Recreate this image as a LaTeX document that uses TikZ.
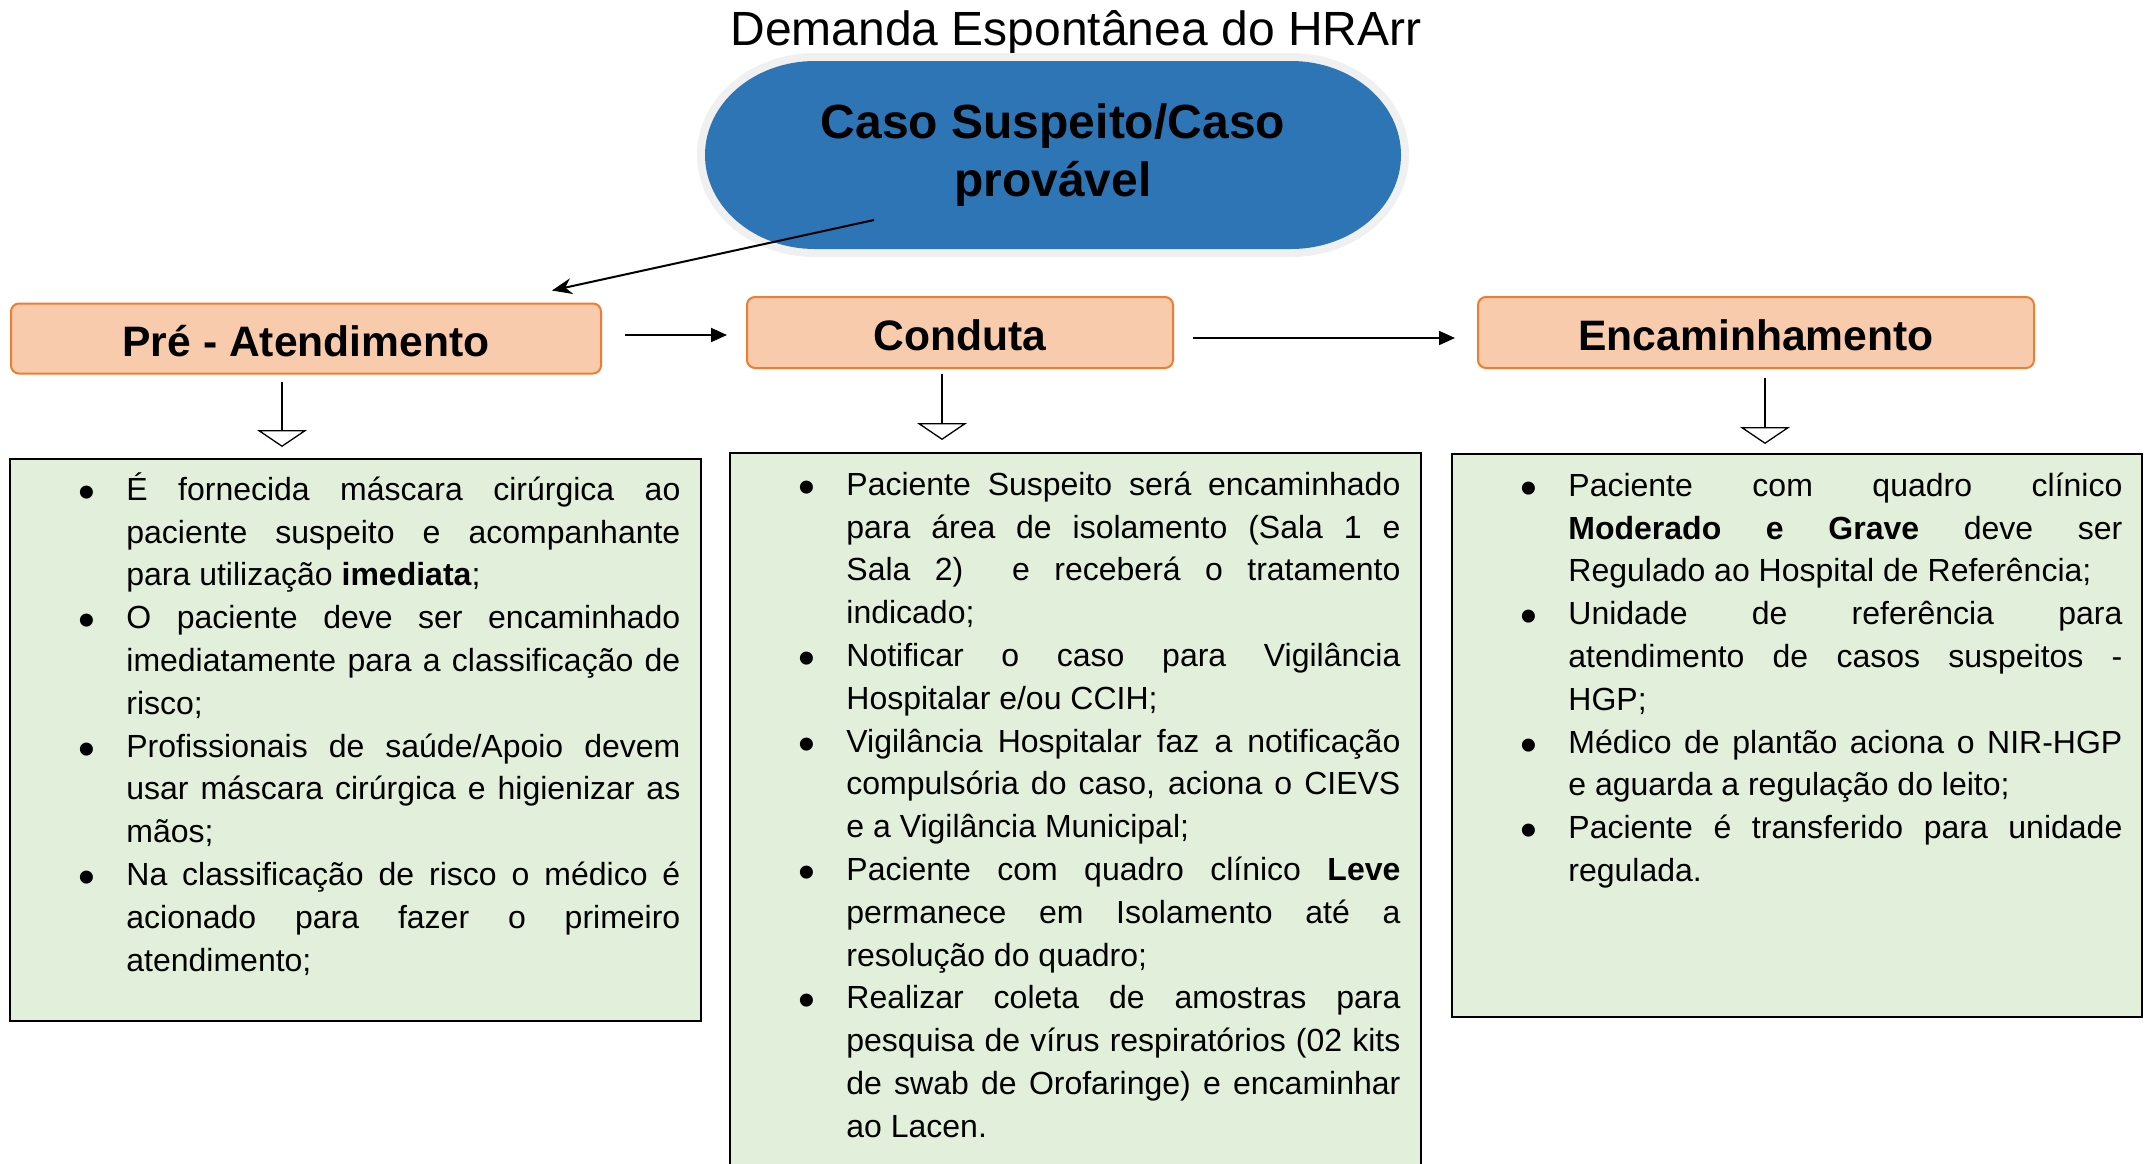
\documentclass[tikz,border=0pt]{standalone}
\usepackage{fontspec}
\setmainfont{Liberation Sans}
\usetikzlibrary{arrows.meta,calc}
\definecolor{ellblue}{HTML}{2E75B6}
\definecolor{ringgray}{HTML}{F0F0F0}
\definecolor{ofill}{HTML}{F8CBAD}
\definecolor{oline}{HTML}{ED7D31}
\definecolor{gfill}{HTML}{E2EFDA}
\hyphenpenalty=10000
\exhyphenpenalty=10000
\tolerance=9999
\hbadness=10000
\newcommand{\bodysize}{\fontsize{16}{21.4}\selectfont}
\newcommand{\bigbul}{\raisebox{-0.25em}{\scalebox{1.5}{\textbullet}}}
\newenvironment{blist}{\begin{list}{\makebox[24pt][l]{\bigbul}}{%
  \setlength{\leftmargin}{24pt}\setlength{\labelwidth}{24pt}%
  \setlength{\labelsep}{0pt}\setlength{\itemsep}{0pt}%
  \setlength{\parsep}{0pt}\setlength{\topsep}{0pt}%
  \setlength{\partopsep}{0pt}\setlength{\rightmargin}{0pt}%
  \setlength{\itemindent}{0pt}\setlength{\listparindent}{0pt}}}{\end{list}}
\tikzset{
  obox/.style={draw=oline, line width=1pt, fill=ofill, rounded corners=4pt,
    font=\fontsize{21.3}{25}\selectfont\bfseries, inner sep=0pt,
    text height=17.5pt, text depth=0pt},
  gbox/.style={draw=black, line width=0.8pt, fill=gfill, anchor=north west, inner sep=0pt},
  btext/.style={anchor=north west, inner sep=0pt, text width=301pt, align=justify, font=\bodysize},
  harr/.style={line width=1pt, -{Triangle[length=8pt,width=7pt]}},
  varr/.style={line width=0.65pt, -{Triangle[open,fill=white,length=8.5pt,width=25pt]}},
}
\begin{document}
\begin{tikzpicture}[x=0.5pt,y=-0.5pt]
\path[use as bounding box] (0,0) rectangle (2147,1163);
\fill[white] (0,0) rectangle (2147,1163);
\clip (0,0) rectangle (2147,1163);

% title
\node[anchor=base, font=\fontsize{24}{28}\selectfont, inner sep=0pt] (title) at (1076,45) {Demanda Espontânea do HRArr};

% top terminator
\path[fill=ellblue, preaction={draw=ringgray, line width=8pt}]
  (815,61) -- (1291,61) arc[start angle=90, end angle=-90, x radius=55pt, y radius=47pt]
  -- (815,249) arc[start angle=270, end angle=90, x radius=55pt, y radius=47pt] -- cycle;
\node[align=center, font=\fontsize{24}{29}\selectfont\bfseries, inner sep=0pt] (ell) at (1053,155.5) {Caso Suspeito/Caso\\provável};

% header boxes
\node[obox, minimum width=295pt, minimum height=35pt] (pre) at (306,338.5) {Pré - Atendimento};
\node[obox, minimum width=213pt, minimum height=35.5pt] (cond) at (960,332.5) {Conduta};
\node[obox, minimum width=278pt, minimum height=35.5pt] (enc) at (1756,332.5) {Encaminhamento};

% content boxes
\node[gbox, minimum width=345.5pt, minimum height=281pt] (preT) at (9,458) {};
\node[gbox, minimum width=345.5pt, minimum height=380pt] (condT) at (729,452) {};
\node[gbox, minimum width=345pt, minimum height=281.5pt] (encT) at (1451,453) {};

\node[btext] (preL) at ($(preT.north west)+(69,-1)$) {\begin{blist}
\item\strut É fornecida máscara cirúrgica ao\linebreak paciente suspeito e acompanhante\linebreak para utilização \textbf{imediata};
\item\strut O paciente deve ser encaminhado\linebreak imediatamente para a classificação de\linebreak risco;
\item\strut Profissionais de saúde/Apoio devem\linebreak usar máscara cirúrgica e higienizar as\linebreak mãos;
\item\strut Na classificação de risco o médico é\linebreak acionado para fazer o primeiro\linebreak atendimento;
\end{blist}};

\node[btext] (condL) at ($(condT.north west)+(69,0)$) {\begin{blist}
\item\strut Paciente Suspeito será encaminhado\linebreak para área de isolamento (Sala 1 e\linebreak Sala 2)\ \ e receberá o tratamento\linebreak indicado;
\item\strut Notificar o caso para Vigilância\linebreak Hospitalar e/ou CCIH;
\item\strut Vigilância Hospitalar faz a notificação\linebreak compulsória do caso, aciona o CIEVS\linebreak e a Vigilância Municipal;
\item\strut Paciente com quadro clínico \textbf{Leve}\linebreak permanece em Isolamento até a\linebreak resolução do quadro;
\item\strut Realizar coleta de amostras para\linebreak pesquisa de vírus respiratórios (02 kits\linebreak de swab de Orofaringe) e encaminhar\linebreak ao Lacen.
\end{blist}};

\node[btext] (encL) at ($(encT.north west)+(69,0)$) {\begin{blist}
\item\strut Paciente com quadro clínico\linebreak \textbf{Moderado e Grave} deve ser\linebreak Regulado ao Hospital de Referência;
\item\strut Unidade de referência para\linebreak atendimento de casos suspeitos -\linebreak HGP;
\item\strut Médico de plantão aciona o NIR-HGP\linebreak e aguarda a regulação do leito;
\item\strut Paciente é transferido para unidade\linebreak regulada.
\end{blist}};

% connectors
\draw[line width=1pt, -{Stealth[length=10pt,width=8pt]}] ($(ell.center)+(-179,64.5)$) -- ($(pre.north)+(246,-12)$);
\draw[harr] ($(pre.east)+(23,-3.5)$) -- ($(cond.west)+(-19,2.5)$);
\draw[harr] ($(cond.east)+(19,5.5)$) -- ($(enc.west)+(-22,5.5)$);
\draw[varr] ($(pre.south)+(-24,7.5)$) -- ($(pre.south)+(-24,72.5)$);
\draw[varr] ($(cond.south)+(-18,5)$) -- ($(cond.south)+(-18,71)$);
\draw[varr] ($(enc.south)+(9,9)$) -- ($(enc.south)+(9,75)$);
\end{tikzpicture}
\end{document}
